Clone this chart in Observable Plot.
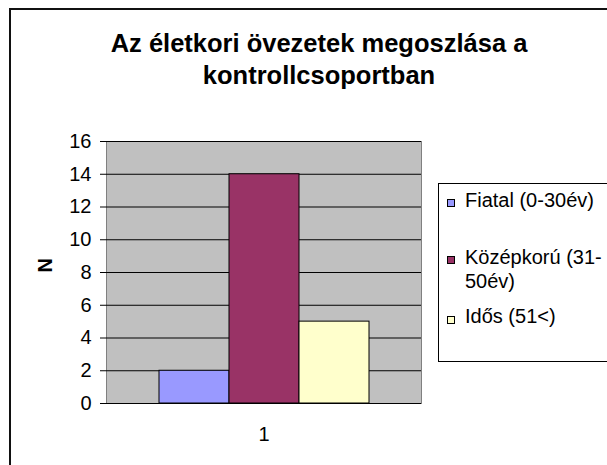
<!DOCTYPE html>
<html><head><meta charset="utf-8">
<script src="https://cdn.jsdelivr.net/npm/d3@7"></script>
<script src="https://cdn.jsdelivr.net/npm/@observablehq/plot@0.6"></script>
<style>
body{margin:0;background:#fff;}
#chart{position:relative;width:607px;height:465px;overflow:hidden;font-family:"Liberation Sans",Arial,sans-serif;color:#000;background:#fff;}
#border{position:absolute;left:9px;top:8px;width:700px;height:600px;border:2px solid #111;box-sizing:border-box;}
#title{position:absolute;left:94px;width:450px;top:26.5px;text-align:center;font-weight:bold;font-size:25.5px;line-height:32px;}
#legend{position:absolute;left:438px;top:183px;width:300px;height:179px;border:1px solid #000;box-sizing:border-box;}
.item{position:absolute;left:465px;width:142px;font-size:20px;line-height:24px;white-space:normal;}
.sw{position:absolute;left:447px;width:8px;height:8px;border:1px solid #000;box-sizing:border-box;}
#chart svg{position:absolute;left:0;top:0;}
</style></head>
<body><div id="chart"><div id="border"></div></div>
<script>
const group = "1";
const categories = ["Fiatal (0-30év)", "Középkorú (31-50év)", "Idős (51<)"];
const counts = [2, 14, 5];
const colors = ["#9999FF", "#993366", "#FFFFCC"];
const yTicks = [0, 2, 4, 6, 8, 10, 12, 14, 16];
const titleText = "Az életkori övezetek megoszlása a kontrollcsoportban";
const yLabel = "N";

const data = categories.map((c, i) => ({group, cat: c, n: counts[i]}));

const chart = document.getElementById("chart");

const svg = Plot.plot({
  width: 607, height: 465,
  marginLeft: 106, marginRight: 186, marginTop: 141, marginBottom: 62,
  style: {fontFamily: '"Liberation Sans", Arial, sans-serif', fontSize: "20px", color: "#000", background: "transparent", overflow: "visible"},
  fx: {domain: [group], padding: 0, label: null},
  x: {domain: categories, paddingInner: 0, paddingOuter: 0.72, axis: null},
  y: {domain: [0, 16]},
  color: {domain: categories, range: colors},
  marks: [
    Plot.frame({fill: "#c0c0c0", stroke: "#808080"}),
    Plot.gridY(yTicks, {stroke: "#000", strokeOpacity: 1}),
    Plot.barY(data, {fx: "group", x: "cat", y: "n", fill: "cat", stroke: "#000", strokeWidth: 1}),
    Plot.ruleY([0], {stroke: "#000"}),
    Plot.axisY(yTicks, {tickSize: 6, tickPadding: 9, label: null}),
    Plot.axisFx({anchor: "bottom", tickSize: 0, tickPadding: 23, label: null}),
    Plot.text([yLabel], {text: d => d, frameAnchor: "left", dx: -61, rotate: -90, fontWeight: "bold", fontSize: 20})
  ]
});
chart.appendChild(svg);

const title = document.createElement("div");
title.id = "title";
title.textContent = titleText;
chart.appendChild(title);

const legend = document.createElement("div");
legend.id = "legend";
chart.appendChild(legend);

const itemTops = [187.8, 245.1, 303.8];
const swTops = [199, 256, 315.5];
categories.forEach((c, i) => {
  const sw = document.createElement("div");
  sw.className = "sw";
  sw.style.top = swTops[i] + "px";
  sw.style.background = colors[i];
  chart.appendChild(sw);
  const t = document.createElement("div");
  t.className = "item";
  t.style.top = itemTops[i] + "px";
  t.textContent = c;
  chart.appendChild(t);
});
</script>
</body></html>
